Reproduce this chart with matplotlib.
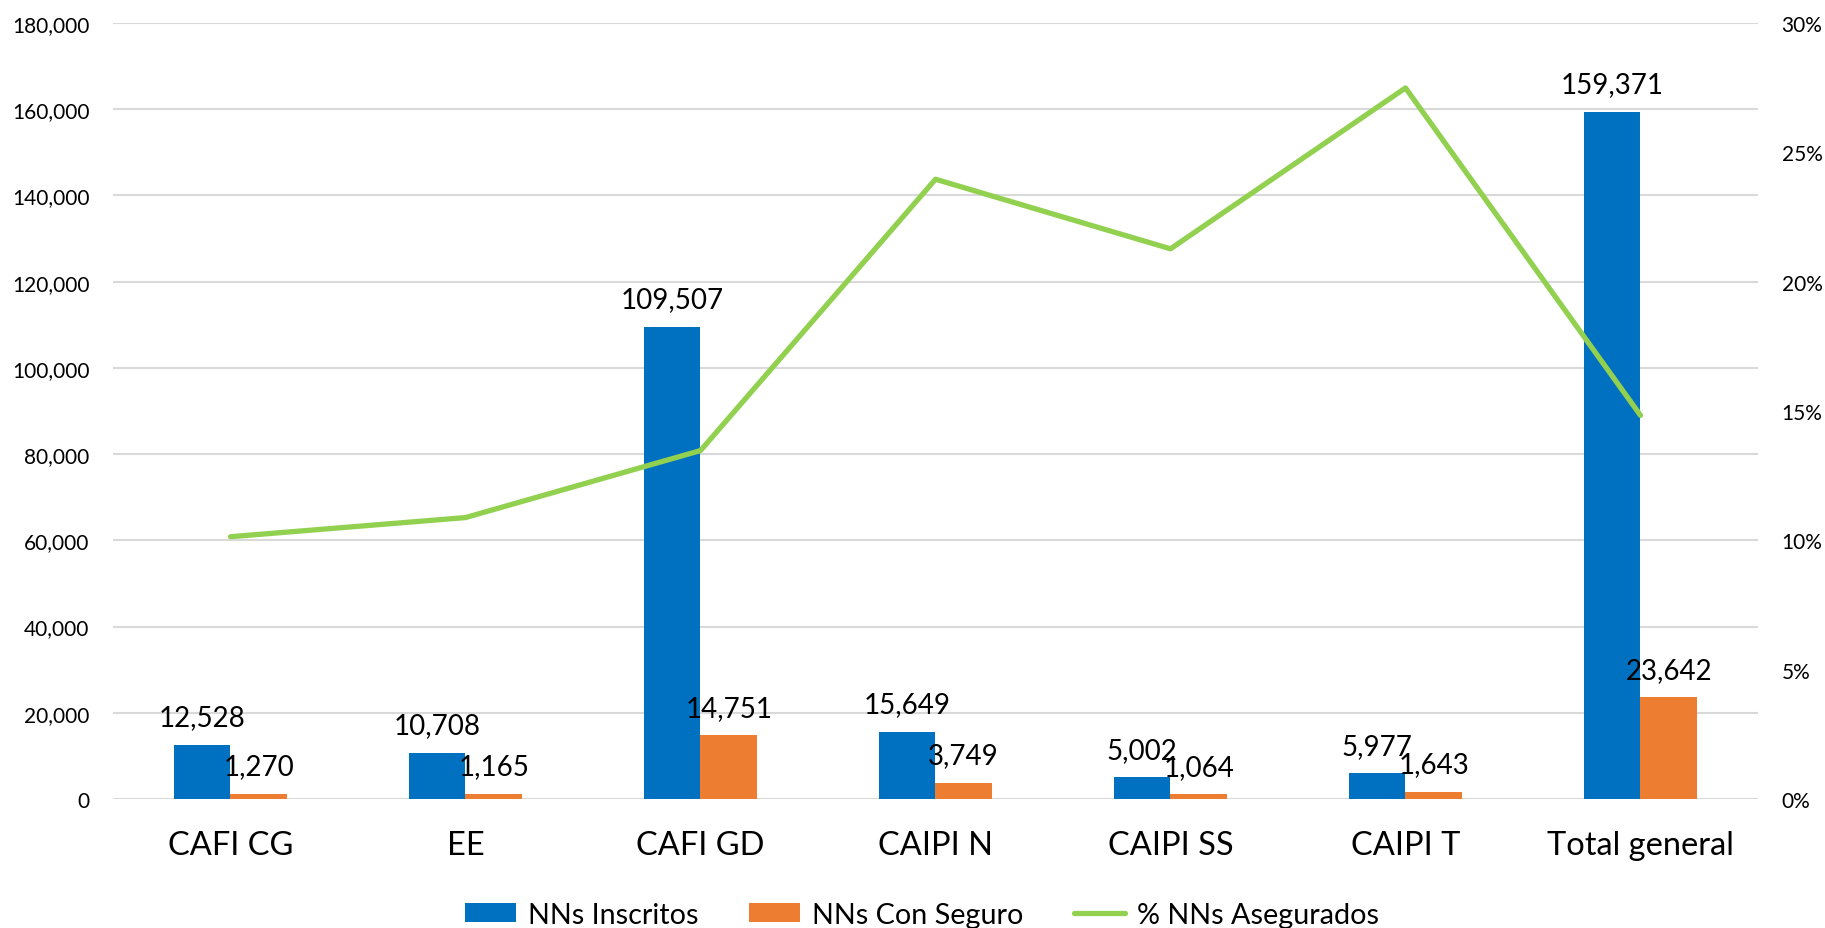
import matplotlib.pyplot as plt
import numpy as np
from matplotlib.ticker import FuncFormatter, PercentFormatter

plt.rcParams['font.family'] = ['Lato', 'DejaVu Sans']

categories = ["CAFI CG", "EE", "CAFI GD", "CAIPI N", "CAIPI SS", "CAIPI T", "Total general"]
inscritos = [12528, 10708, 109507, 15649, 5002, 5977, 159371]
con_seguro = [1270, 1165, 14751, 3749, 1064, 1643, 23642]
pct_asegurados = [0.1014, 0.1088, 0.1347, 0.2396, 0.2127, 0.2749, 0.1483]

BLUE = "#0070C0"
ORANGE = "#ED7D31"
GREEN = "#92D050"

fig = plt.figure(figsize=(18.25, 9.29), dpi=100)
ax = fig.add_axes([113 / 1825, 1 - 800 / 929, 1645 / 1825, 776 / 929])
ax2 = ax.twinx()

x = np.arange(len(categories))
w = 0.24
b1 = ax.bar(x - w / 2, inscritos, w, color=BLUE, label="NNs Inscritos", zorder=2)
b2 = ax.bar(x + w / 2, con_seguro, w, color=ORANGE, label="NNs Con Seguro", zorder=2)

# etiquetas de datos encima de cada barra
for bars in (b1, b2):
    for r in bars:
        h = r.get_height()
        ax.annotate(f"{int(h):,}", (r.get_x() + r.get_width() / 2, h),
                    xytext=(0, 14), textcoords="offset points",
                    ha="center", va="baseline", fontsize=20, color="black", zorder=5)

ln, = ax2.plot(x, pct_asegurados, color=GREEN, lw=3.8, label="% NNs Asegurados",
               solid_capstyle="round", zorder=3)

ax.set_xlim(-0.5, len(categories) - 0.5)
ax.set_ylim(0, 180000)
ax.set_yticks(np.arange(0, 180001, 20000))
ax.yaxis.set_major_formatter(FuncFormatter(lambda v, p: f"{int(v):,}"))
ax2.set_ylim(0, 0.30)
ax2.set_yticks(np.arange(0, 0.301, 0.05))
ax2.yaxis.set_major_formatter(PercentFormatter(1.0, decimals=0))

ax.grid(axis="y", color="#D9D9D9", lw=1.5, zorder=0)
ax.set_axisbelow(True)
for a in (ax, ax2):
    for s in a.spines.values():
        s.set_visible(False)
    a.tick_params(length=0)

ax.set_xticks(x)
ax.set_xticklabels(categories, fontsize=23.5)
ax.tick_params(axis="x", pad=22)
ax.tick_params(axis="y", labelsize=15, pad=17)
ax2.tick_params(axis="y", labelsize=15, pad=17)

fig.legend(handles=[b1, b2, ln], loc="lower center", bbox_to_anchor=(0.505, 0.0),
           ncol=3, frameon=False, fontsize=20.7, handlelength=1.8, handleheight=0.63,
           handletextpad=0.4, columnspacing=1.75, borderpad=0.0, borderaxespad=0.0)

fig.savefig("out.png", dpi=100)
